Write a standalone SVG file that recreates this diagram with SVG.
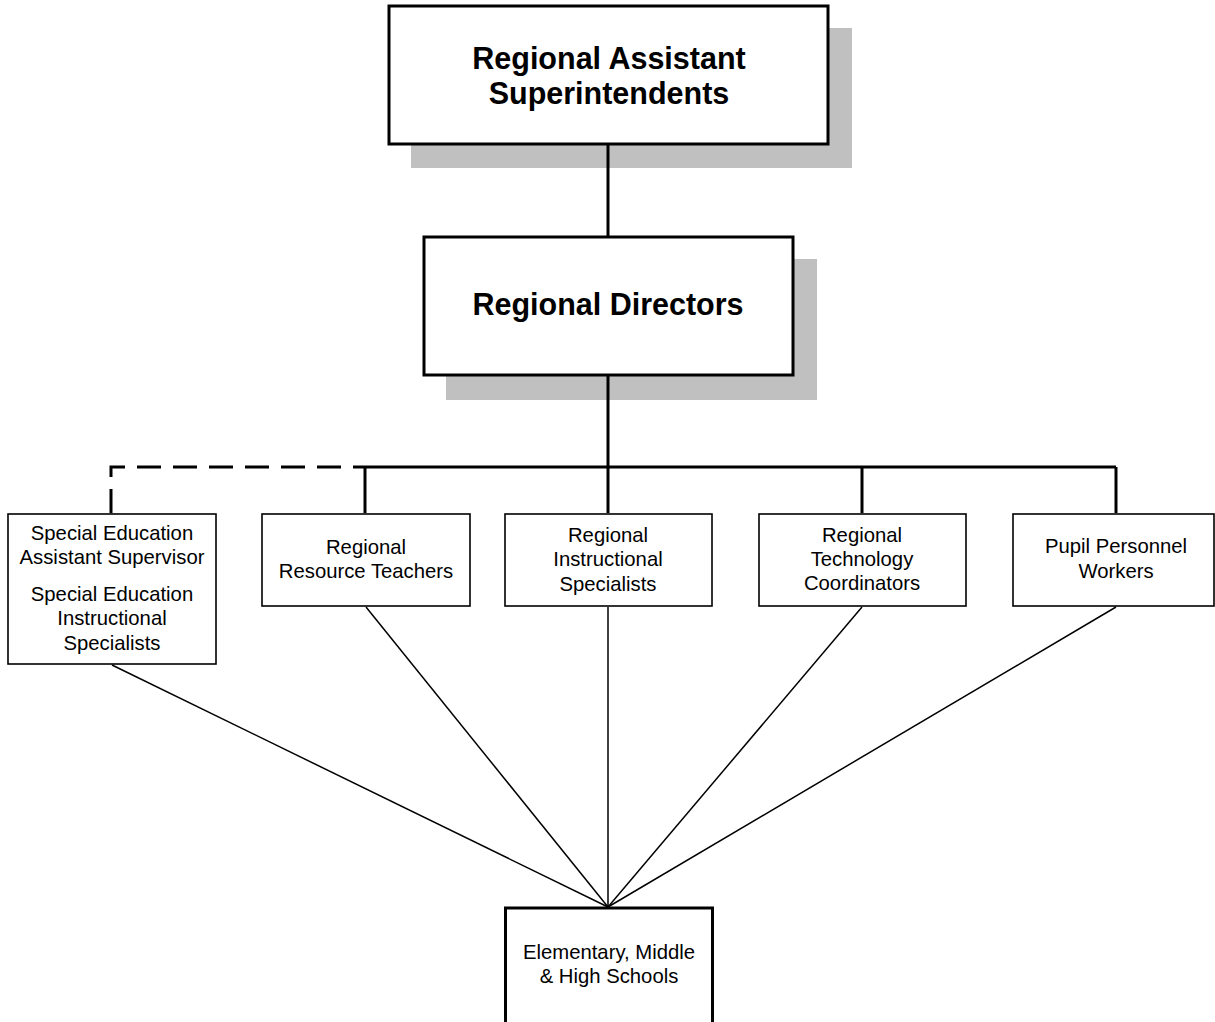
<svg xmlns="http://www.w3.org/2000/svg" width="1215" height="1022" viewBox="0 0 1215 1022">
  <style>
    .shadow { fill: #c0c0c0; }
    .box-main { fill: #ffffff; stroke: #000000; stroke-width: 3; }
    .box { fill: #ffffff; stroke: #000000; stroke-width: 1.6; }
    .box-bottom { fill: #ffffff; stroke: #000000; stroke-width: 3; }
    .title { font-family: "Liberation Sans", Arial, sans-serif; font-weight: bold; font-size: 30.5px; text-anchor: middle; fill: #000; }
    .label { font-family: "Liberation Sans", Arial, sans-serif; font-size: 20.3px; text-anchor: middle; fill: #000; }
    .thick { fill: none; stroke: #000; stroke-width: 3; }
    .dashed { fill: none; stroke: #000; stroke-width: 3; stroke-dasharray: 24 12; }
    .thin { fill: none; stroke: #000; stroke-width: 1.5; }
  </style>
  <rect width="1215" height="1022" fill="#ffffff"/>

  <g id="node-superintendents">
    <rect class="shadow" x="411" y="28" width="441" height="140"/>
    <rect class="box-main" x="389" y="6" width="439" height="138"/>
    <text class="title" x="609" y="69">Regional Assistant</text>
    <text class="title" x="609" y="104">Superintendents</text>
  </g>

  <g id="node-directors">
    <rect class="shadow" x="446" y="259" width="371" height="141"/>
    <rect class="box-main" x="424" y="237" width="369" height="138"/>
    <text class="title" x="608" y="315">Regional Directors</text>
  </g>

  <g id="node-special-ed">
    <rect class="box" x="8" y="514" width="208" height="150"/>
    <text class="label" x="112" y="540">Special Education</text>
    <text class="label" x="112" y="564">Assistant Supervisor</text>
    <text class="label" x="112" y="601">Special Education</text>
    <text class="label" x="112" y="625">Instructional</text>
    <text class="label" x="112" y="650">Specialists</text>
  </g>

  <g id="node-resource-teachers">
    <rect class="box" x="262" y="514" width="208" height="92"/>
    <text class="label" x="366" y="554">Regional</text>
    <text class="label" x="366" y="578">Resource Teachers</text>
  </g>

  <g id="node-instructional-specialists">
    <rect class="box" x="505" y="514" width="207" height="92"/>
    <text class="label" x="608" y="542">Regional</text>
    <text class="label" x="608" y="566">Instructional</text>
    <text class="label" x="608" y="591">Specialists</text>
  </g>

  <g id="node-technology">
    <rect class="box" x="759" y="514" width="207" height="92"/>
    <text class="label" x="862" y="542">Regional</text>
    <text class="label" x="862" y="566">Technology</text>
    <text class="label" x="862" y="590">Coordinators</text>
  </g>

  <g id="node-pupil-personnel">
    <rect class="box" x="1013" y="514" width="201" height="92"/>
    <text class="label" x="1116" y="553">Pupil Personnel</text>
    <text class="label" x="1116" y="578">Workers</text>
  </g>

  <g id="node-schools">
    <rect class="box-bottom" x="505.5" y="908" width="207" height="120"/>
    <text class="label" x="609" y="959">Elementary, Middle</text>
    <text class="label" x="609" y="983">&amp; High Schools</text>
  </g>

  <!-- connectors are drawn last so they run over the drop shadows -->
  <g id="connectors">
    <line class="thick" x1="608" y1="145" x2="608" y2="236"/>
    <line class="thick" x1="608" y1="376" x2="608" y2="513"/>
    <line class="thick" x1="365" y1="467" x2="1116" y2="467"/>
    <line class="thick" x1="365" y1="467" x2="365" y2="513"/>
    <line class="thick" x1="862" y1="467" x2="862" y2="513"/>
    <line class="thick" x1="1116" y1="467" x2="1116" y2="513"/>
    <path class="dashed" d="M111 513 V467 H365"/>
    <line class="thin" x1="112" y1="665" x2="608" y2="907"/>
    <line class="thin" x1="366" y1="607" x2="608" y2="907"/>
    <line class="thin" x1="608" y1="607" x2="608" y2="907"/>
    <line class="thin" x1="862" y1="607" x2="608" y2="907"/>
    <line class="thin" x1="1116" y1="607" x2="608" y2="907"/>
  </g>
</svg>
